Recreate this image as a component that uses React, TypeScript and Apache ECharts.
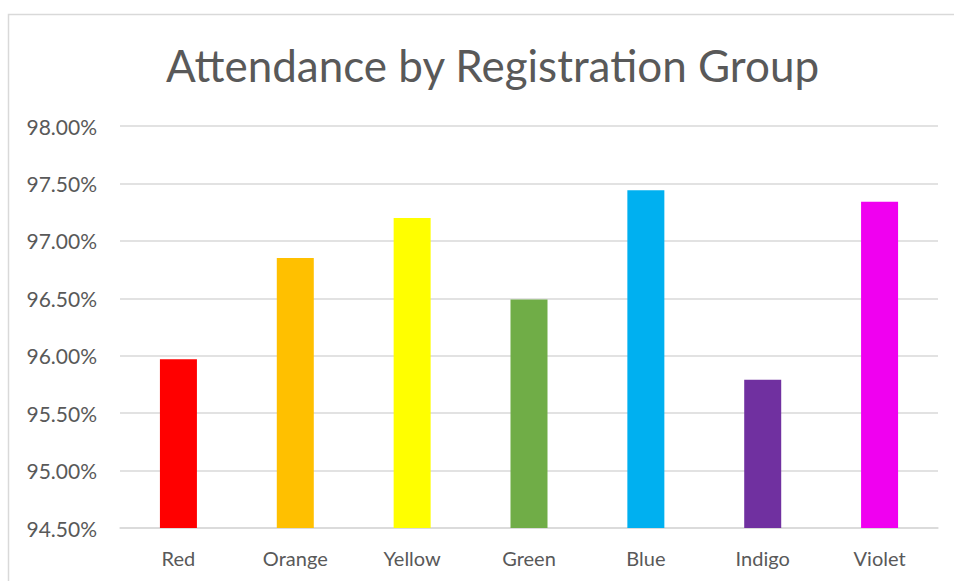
import React, { useEffect, useRef } from "react";
import * as echarts from "echarts";

const categories = ["Red", "Orange", "Yellow", "Green", "Blue", "Indigo", "Violet"];
const attendance = [95.97, 96.85, 97.2, 96.49, 97.44, 95.79, 97.34];
const barColors = ["#FF0000", "#FFC000", "#FFFF00", "#70AD47", "#00B0F0", "#7030A0", "#F000F0"];
const yMin = 94.5;
const yMax = 98.0;
const yStep = 0.5;

export default function App() {
  const ref = useRef<HTMLDivElement>(null);
  useEffect(() => {
    if (!ref.current) return;
    const chart = echarts.init(ref.current, null, { renderer: "svg" });
    const font = "Lato, 'Open Sans', sans-serif";
    chart.setOption({
      animation: false,
      backgroundColor: "#ffffff",
      title: {
        text: "Attendance by Registration Group",
        left: 161,
        top: 38,
        textStyle: { fontFamily: font, fontSize: 44, fontWeight: "normal", color: "#595959" },
      },
      graphic: [
        {
          type: "rect",
          shape: { x: 8.5, y: 14.5, width: 1200, height: 800 },
          style: { fill: "none", stroke: "#d9d9d9", lineWidth: 1.5 },
          silent: true,
        },
      ],
      grid: { left: 120, right: 16, top: 126, bottom: 53 },
      xAxis: {
        type: "category",
        data: categories,
        axisLine: { show: true, lineStyle: { color: "#d9d9d9", width: 1.5 } },
        axisTick: { show: false },
        axisLabel: { fontFamily: font, fontSize: 20, color: "#595959", margin: 20 },
      },
      yAxis: {
        type: "value",
        min: yMin,
        max: yMax,
        interval: yStep,
        axisLine: { show: false },
        axisTick: { show: false },
        splitLine: { lineStyle: { color: "#d9d9d9", width: 1.5 } },
        axisLabel: {
          fontFamily: font,
          fontSize: 21,
          color: "#595959",
          margin: 23,
          formatter: (v: number) => v.toFixed(2) + "%",
        },
      },
      series: [
        {
          type: "bar",
          data: attendance.map((v, i) => ({ value: v, itemStyle: { color: barColors[i] } })),
          barWidth: 37,
        },
      ],
    });
    return () => chart.dispose();
  }, []);
  return (
    <div
      ref={ref}
      style={{ position: "fixed", left: 0, top: 0, width: 954, height: 581 }}
    />
  );
}
